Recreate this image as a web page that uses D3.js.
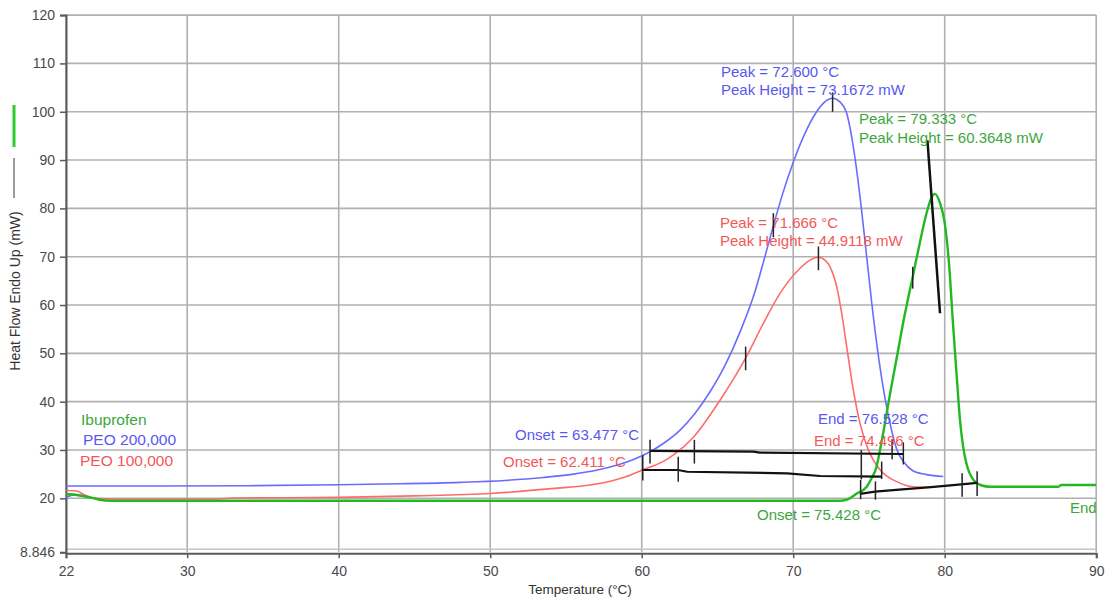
<!DOCTYPE html>
<html>
<head>
<meta charset="utf-8">
<script src="https://cdn.jsdelivr.net/npm/d3@7"></script>
<style>
  body { margin: 0; background: #fff; }
  text { font-family: "Liberation Sans", Arial, sans-serif; }
</style>
</head>
<body>
<svg id="chart" width="1105" height="601"></svg>
<script>
// ---- axis ticks ----
const xTickValues = [22, 30, 40, 50, 60, 70, 80, 90];
const yTickValues = [8.846, 20, 30, 40, 50, 60, 70, 80, 90, 100, 110, 120];

// ---- DSC traces: [temperature °C, heat flow mW] ----
const ibuprofen = [
  [22, 20.9], [22.5, 20.8], [23, 20.5], [23.6, 20.2], [24.2, 19.7], [25, 19.5],
  [40, 19.5], [60, 19.5], [73, 19.5], [73.6, 19.8], [74.2, 21.0], [74.85, 22.4],
  [75.2, 24.3], [75.5, 26.5], [75.73, 30], [76.0, 34.5], [76.3, 40], [76.8, 48.5],
  [77.3, 57], [77.9, 66], [78.4, 73.5], [78.8, 79], [79.1, 82], [79.35, 83.0],
  [79.7, 81.0], [80.0, 77.0], [80.3, 68], [80.55, 56], [80.8, 45], [81.0, 36.5],
  [81.2, 31], [81.45, 27], [81.9, 23.8], [82.4, 22.7], [83.0, 22.4], [87.5, 22.4],
  [87.7, 22.75], [90, 22.75]
];
const peo200k = [
  [22, 22.55], [28, 22.55], [34, 22.6], [40, 22.8], [44, 23.0], [48, 23.3], [51, 23.7],
  [53.5, 24.3], [55.5, 25.0], [57, 25.8], [58.5, 27.0], [59.5, 28.1], [60.55, 29.65],
  [61.5, 31.5], [62.5, 34.0], [63.5, 37.5], [64.5, 42.0], [65.5, 47.5], [66.5, 54.5],
  [67.5, 63.0], [68.0, 68.5], [68.7, 76.5], [69.3, 83.0], [70.0, 89.5], [70.7, 95.0],
  [71.5, 99.8], [72.0, 101.8], [72.6, 102.8], [73.1, 102.0], [73.5, 100.0], [74.1, 90.0],
  [74.5, 80.0], [74.85, 70.0], [75.2, 60.0], [75.6, 50.0], [76.1, 40.0], [76.5, 34.0],
  [76.85, 30.0], [77.3, 27.5], [77.9, 25.7], [78.8, 24.9], [79.9, 24.5]
];
const peo200kStart = [[22, 20.1], [22.5, 20.7], [23.0, 20.6], [23.4, 20.3]];
const peo100k = [
  [22, 21.6], [22.7, 21.5], [23.3, 20.6], [24, 20.0], [25, 19.85], [32, 19.85], [33, 20.05],
  [40, 20.2], [45, 20.5], [50, 21.0], [54.4, 22.1], [56.6, 22.75], [58, 23.6], [59, 24.5],
  [60, 25.8], [61.4, 27.6], [62.1, 29.0], [63.4, 32.6], [65.17, 40.3], [66.86, 49.0],
  [68.03, 56.2], [69.13, 62.4], [70.45, 67.6], [71.1, 69.3], [71.666, 69.9], [72.1, 69.3],
  [72.43, 67.9], [72.87, 63.8], [73.2, 58.3], [73.53, 51.4], [73.97, 42.4], [74.41, 35.5],
  [74.96, 30], [75.73, 25.9], [76.83, 23.45], [77.93, 22.4], [79.03, 22.3]
];

// ---- analysis baselines and markers ----
const peo200kBaseline = [[60.55, 29.8], [67.37, 29.66], [67.8, 29.45], [77.27, 29.17]];
const peo100kBaseline = [[60.0, 25.86], [62.4, 25.86], [63.0, 25.5], [69.6, 25.17], [71.77, 24.62], [75.84, 24.48]];
const ibuprofenBaseline = [[74.41, 20.9], [75.4, 21.4], [77, 21.8], [79.1, 22.3], [81.1, 22.9], [82.14, 23.2]];
// vertical markers: [temperature, from, to]
const markerTicks = [
  [60.55, 27.2, 32.1], [63.477, 27.2, 32.1], [76.528, 28.1, 32.2], [77.27, 27.0, 31.6],
  [60.07, 23.7, 28.9], [62.411, 23.4, 28.6], [74.496, 23.9, 30.0], [75.84, 24.0, 27.6],
  [74.45, 19.8, 23.8], [75.428, 19.7, 23.5], [81.15, 20.3, 25.2], [82.14, 20.5, 25.6],
  [72.600, 100.0, 104.0], [71.666, 67.2, 72.1],
  [68.69, 74.0, 79.0], [66.86, 46.5, 51.4], [77.89, 63.4, 67.9]
];
const ibuprofenPeakLine = [[78.86, 94.1], [79.69, 58.3]];

// ---- reported results ----
const seriesNames = ["Ibuprofen", "PEO 200,000", "PEO 100,000"];
const peakTemps = [79.333, 72.600, 71.666];
const peakHeights = [60.3648, 73.1672, 44.9118];
const onsetTemps = [75.428, 63.477, 62.411];
const endTemps = [null, 76.528, 74.496];

const colors = { green: "#22b822", blue: "#6b6bff", red: "#ff6b6b" };
const textColors = { green: "#3ca63c", blue: "#5858f0", red: "#f25858" };

const svg = d3.select("#chart");
const plotLeft = 66, plotRight = 1096.2, plotTop = 15.1, plotBottom = 552.2;

const x = d3.scaleLinear().domain([22, 90]).range([plotLeft, plotRight]);
const y = d3.scaleLinear().domain([8.846, 120]).range([plotBottom, plotTop]);

svg.append("defs").append("clipPath").attr("id", "plot")
  .append("rect").attr("x", plotLeft).attr("y", plotTop - 2)
  .attr("width", plotRight - plotLeft + 2).attr("height", plotBottom - plotTop + 4);

// grid
const grid = svg.append("g");
grid.selectAll("line.v").data(xTickValues).join("line")
  .attr("x1", d => x(d)).attr("x2", d => x(d)).attr("y1", plotTop).attr("y2", plotBottom)
  .attr("stroke", "#b0b0b0").attr("stroke-width", 1.6);
grid.selectAll("line.h").data(yTickValues.filter(d => d > 10)).join("line")
  .attr("x1", plotLeft).attr("x2", plotRight).attr("y1", d => y(d)).attr("y2", d => y(d))
  .attr("stroke", "#b0b0b0").attr("stroke-width", 1.6);
grid.append("line")
  .attr("x1", plotLeft).attr("x2", plotRight).attr("y1", y(8.846) - 3).attr("y2", y(8.846) - 3)
  .attr("stroke", "#c4c4c4").attr("stroke-width", 1.4);

// axes
const xAxis = svg.append("g").attr("transform", `translate(0,${y(8.846) + 1})`)
  .call(d3.axisBottom(x).tickValues(xTickValues).tickFormat(d3.format("d")).tickSize(5).tickPadding(8));
const yAxis = svg.append("g").attr("transform", `translate(${plotLeft},0)`)
  .call(d3.axisLeft(y).tickValues(yTickValues).tickFormat(d => d === 8.846 ? "8.846" : d3.format("d")(d)).tickSize(6).tickPadding(5));
[xAxis, yAxis].forEach(a => {
  a.select(".domain").attr("stroke", "#5a5a5a").attr("stroke-width", 2);
  a.selectAll(".tick line").attr("stroke", "#5a5a5a").attr("stroke-width", 1.5);
  a.selectAll(".tick text").attr("fill", "#4a4a4a").style("font-size", "14px")
    .style("font-family", '"Liberation Sans", Arial, sans-serif');
});

svg.append("text").attr("x", 580).attr("y", 594)
  .attr("text-anchor", "middle").attr("fill", "#333").style("font-size", "13.5px")
  .text("Temperature (°C)");
svg.append("text").attr("transform", "translate(20,291) rotate(-90)")
  .attr("text-anchor", "middle").attr("fill", "#333").style("font-size", "14px")
  .text("Heat Flow Endo Up (mW)");
// axis-side series swatches
svg.append("line").attr("x1", 14).attr("x2", 14).attr("y1", 105).attr("y2", 147)
  .attr("stroke", "#2ccc2c").attr("stroke-width", 3);
svg.append("line").attr("x1", 14).attr("x2", 14).attr("y1", 158).attr("y2", 198)
  .attr("stroke", "#666").attr("stroke-width", 1.3);

// traces
const line = d3.line().x(d => x(d[0])).y(d => y(d[1])).curve(d3.curveMonotoneX);
const plot = svg.append("g").attr("clip-path", "url(#plot)");
const traces = [
  [peo100k, colors.red, 1.6],
  [peo200k, colors.blue, 1.6],
  [peo200kStart, colors.blue, 1.6],
  [ibuprofen, colors.green, 2.4]
];
traces.forEach(([data, c, w]) => {
  plot.append("path").datum(data).attr("d", line)
    .attr("fill", "none").attr("stroke", c).attr("stroke-width", w).attr("stroke-linejoin", "round");
});

// analysis overlays
const straight = d3.line().x(d => x(d[0])).y(d => y(d[1]));
[peo200kBaseline, peo100kBaseline, ibuprofenBaseline].forEach(b => {
  plot.append("path").datum(b).attr("d", straight)
    .attr("fill", "none").attr("stroke", "#111").attr("stroke-width", 2.2);
});
plot.selectAll("line.tick").data(markerTicks).join("line")
  .attr("x1", d => x(d[0])).attr("x2", d => x(d[0]))
  .attr("y1", d => y(d[1])).attr("y2", d => y(d[2]))
  .attr("stroke", "#222").attr("stroke-width", 1.5);
plot.append("path").datum(ibuprofenPeakLine).attr("d", straight)
  .attr("stroke", "#111").attr("stroke-width", 2.5);

// annotations
const fmt3 = d3.format(".3f"), fmt4 = d3.format(".4f");
const notes = [
  [721, 77, textColors.blue, `Peak = ${fmt3(peakTemps[1])} °C`],
  [721, 95, textColors.blue, `Peak Height = ${fmt4(peakHeights[1])} mW`],
  [859, 124, textColors.green, `Peak = ${fmt3(peakTemps[0])} °C`],
  [859, 143, textColors.green, `Peak Height = ${fmt4(peakHeights[0])} mW`],
  [720, 228, textColors.red, `Peak = ${fmt3(peakTemps[2])} °C`],
  [720, 246, textColors.red, `Peak Height = ${fmt4(peakHeights[2])} mW`],
  [818, 424, textColors.blue, `End = ${fmt3(endTemps[1])} °C`],
  [814, 446, textColors.red, `End = ${fmt3(endTemps[2])} °C`],
  [515, 440, textColors.blue, `Onset = ${fmt3(onsetTemps[1])} °C`],
  [503, 467, textColors.red, `Onset = ${fmt3(onsetTemps[2])} °C`],
  [757, 520, textColors.green, `Onset = ${fmt3(onsetTemps[0])} °C`],
  [1070, 513, textColors.green, "End"]
];
svg.append("g").selectAll("text").data(notes).join("text")
  .attr("x", d => d[0]).attr("y", d => d[1]).attr("fill", d => d[2])
  .style("font-size", "15px").text(d => d[3]);

// series legend
const legendColors = [textColors.green, textColors.blue, textColors.red];
const legendPos = [[81, 425], [83, 445], [80, 466]];
svg.append("g").selectAll("text").data(seriesNames).join("text")
  .attr("x", (d, i) => legendPos[i][0]).attr("y", (d, i) => legendPos[i][1])
  .attr("fill", (d, i) => legendColors[i]).style("font-size", "15.5px").text(d => d);
</script>
</body>
</html>
